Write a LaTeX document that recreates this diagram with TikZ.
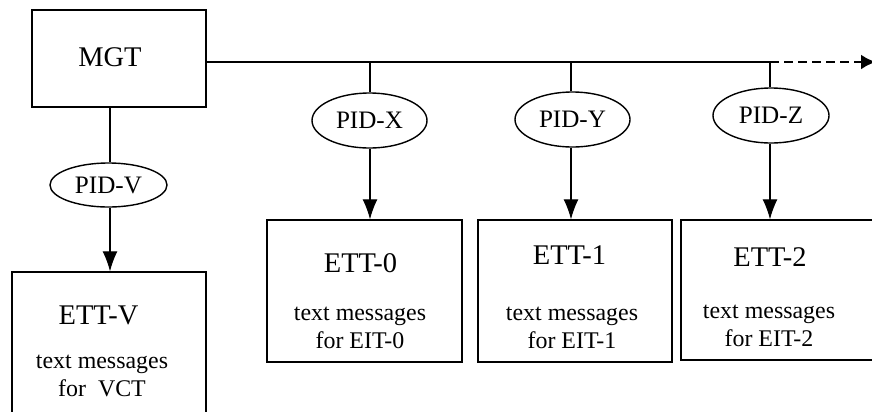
\documentclass[tikz,border=0pt]{standalone}
\usepackage{fontspec}
\setmainfont{Liberation Serif}
\usetikzlibrary{arrows.meta,shapes.geometric}
\tikzset{
	tabla/.style={draw, line width=0.8pt, minimum width=#1, minimum height=2.84cm, inner sep=0pt},
	pid/.style={draw, ellipse, line width=0.8pt, minimum width=2.3cm, minimum height=1.1cm, inner sep=0pt, font=\fontsize{14.3}{16}\selectfont},
	titulo/.style={font=\fontsize{16.2}{18}\selectfont},
	mensaje/.style={align=center, font=\fontsize{13.6}{16}\selectfont},
	flecha/.style={line width=0.6pt, -{Latex[length=0.4cm,width=0.3cm]}},
	linea/.style={line width=0.6pt}
}

\begin{document}
\begin{tikzpicture}
	% Marco de la figura
	\useasboundingbox (0,0) rectangle (17.44,-8.22);

	% Tabla maestra
	\node[tabla=3.48cm, minimum height=1.94cm] (mgt) at (2.38,-1.17) {};
	\node[titulo] (tmgt) at (2.2,-1.14) {MGT};

	% Bus horizontal
	\coordinate (bx) at (7.4,-1.24);
	\coordinate (by) at (11.42,-1.24);
	\coordinate (bz) at (15.4,-1.24);
	\coordinate (fin) at (17.52,-1.24);
	\draw[linea] (mgt.east |- bx) -- (bz);
	\draw[line width=1.5pt, dash pattern=on 5pt off 3pt, -{Latex[length=0.3cm,width=0.3cm]}] (bz) -- (fin);

	% Etiquetas PID
	\node[pid, minimum width=2.34cm, minimum height=0.88cm] (pidv) at (2.17,-3.7) {PID-V};
	\node[pid] (pidx) at (7.39,-2.41) {PID-X};
	\node[pid] (pidy) at (11.45,-2.39) {PID-Y};
	\node[pid, minimum width=2.32cm] (pidz) at (15.42,-2.31) {PID-Z};

	% Tablas ETT
	\node[tabla=3.88cm, minimum height=3.2cm] (ettv) at (2.18,-7.04) {};
	\node[tabla=3.9cm] (ett0) at (7.29,-5.82) {};
	\node[tabla=3.88cm] (ett1) at (11.5,-5.82) {};
	\node[tabla=3.98cm, minimum height=2.8cm] (ett2) at (15.61,-5.8) {};

	% Conexiones
	\draw[linea] (mgt.south -| pidv) ++(0.03,0) coordinate (mv) -- (mv |- pidv.north);
	\draw[flecha] (mv |- pidv.south) -- (mv |- ettv.north);
	\draw[linea] (bx) -- (bx |- pidx.north);
	\draw[flecha] (bx |- pidx.south) -- (bx |- ett0.north);
	\draw[linea] (by) -- (by |- pidy.north);
	\draw[flecha] (by |- pidy.south) -- (by |- ett1.north);
	\draw[linea] (bz) -- (bz |- pidz.north);
	\draw[flecha] (bz |- pidz.south) -- (bz |- ett2.north);

	% Textos de las tablas
	\node[titulo] (tv) at (1.97,-6.3) {ETT-V};
	\node[mensaje] (mv1) at (2.04,-7.52) {text messages\\for\ \ VCT};
	\node[titulo] (t0) at (7.21,-5.26) {ETT-0};
	\node[mensaje] (m0) at (7.2,-6.56) {text messages\\for EIT-0};
	\node[titulo] (t1) at (11.39,-5.1) {ETT-1};
	\node[mensaje] (m1) at (11.44,-6.56) {text messages\\for EIT-1};
	\node[titulo] (t2) at (15.4,-5.14) {ETT-2};
	\node[mensaje] (m2) at (15.38,-6.52) {text messages\\for EIT-2};
\end{tikzpicture}
\end{document}
